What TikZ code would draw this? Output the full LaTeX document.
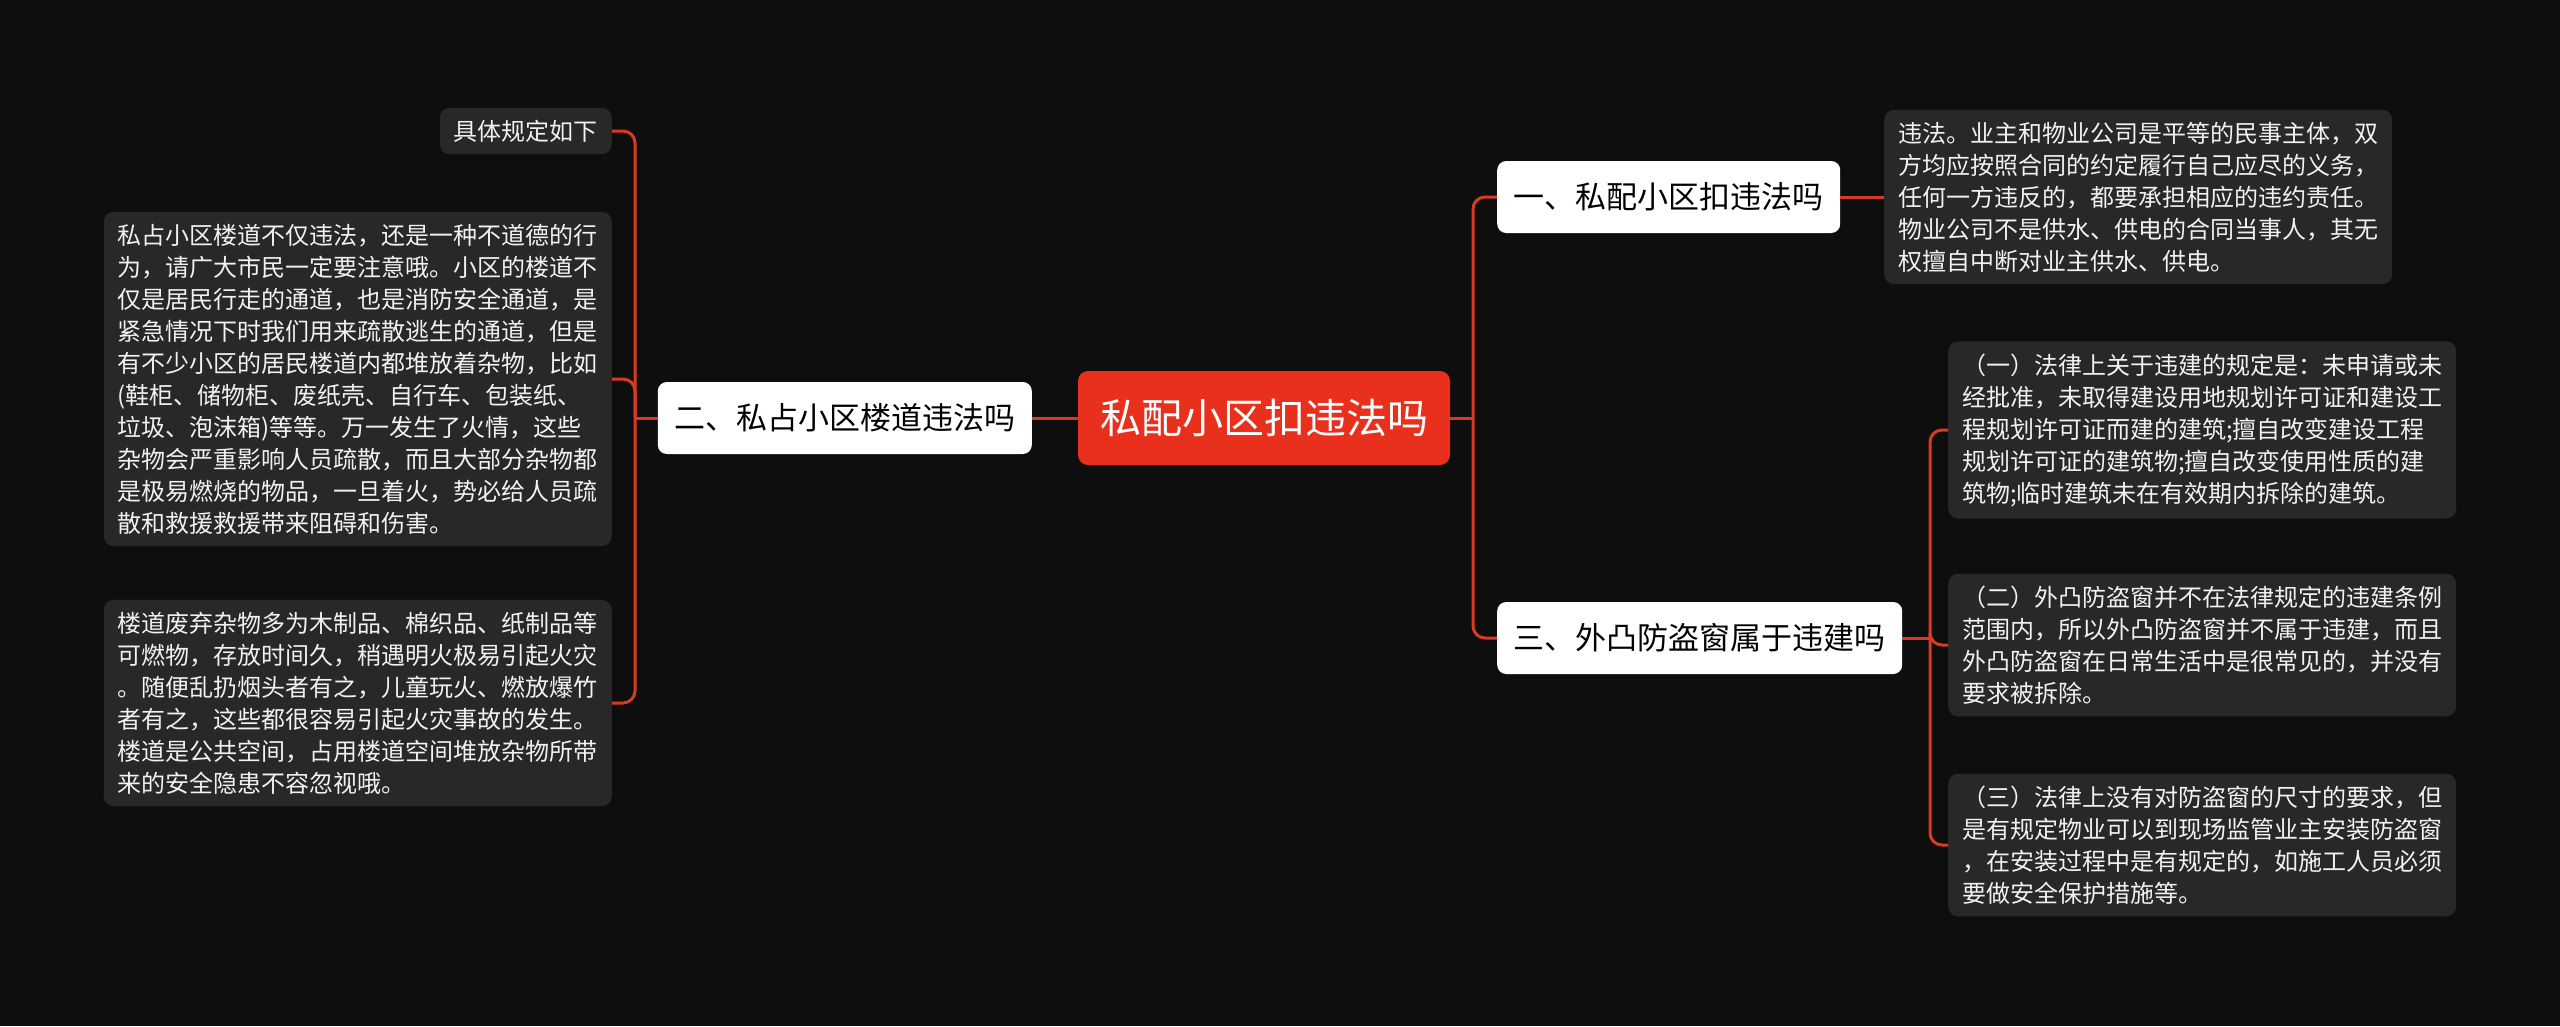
\documentclass[tikz,border=0pt]{standalone}
\usepackage{fontspec}
\setmainfont{Noto Sans CJK SC}
\usetikzlibrary{positioning}
\definecolor{PageBg}{HTML}{0E0E0E}
\definecolor{CardGray}{HTML}{282828}
\definecolor{TopicRed}{HTML}{E8301C}
\definecolor{LinkRed}{HTML}{D93A24}
\definecolor{Paper}{HTML}{F2F2F2}

\begin{document}
\begin{tikzpicture}[x=1pt,y=-1pt,
    link/.style={LinkRed,line width=3pt,rounded corners=12pt},
    card/.style={fill=CardGray,rounded corners=10pt,text=Paper,align=left,
      font=\fontsize{24}{32}\selectfont,inner xsep=14pt,inner ysep=12pt},
    topic/.style={fill=white,rounded corners=9pt,text=black,
      font=\fontsize{31}{38}\selectfont,inner xsep=16.5pt,minimum height=72pt},
    rootbox/.style={fill=TopicRed,rounded corners=10pt,text=white,
      font=\fontsize{41}{48}\selectfont,inner xsep=22pt,minimum height=94pt}]
    \useasboundingbox[fill=PageBg] (0,0) rectangle (2560,1026);

    % centre and the three topics
    \node[rootbox] (root) at (1264,418) {私配小区扣违法吗};
    \node[topic,anchor=east] (sub2) at (1032,418) {二、私占小区楼道违法吗};
    \node[topic,anchor=west] (sub1) at (1497,197) {一、私配小区扣违法吗};
    \node[topic,anchor=west] (sub3) at (1497,638) {三、外凸防盗窗属于违建吗};

    % left side
    \node[card,anchor=east] (spec) at (612,131) {具体规定如下};
    \node[card,anchor=east] (hallA) at (612,379)
      {私占小区楼道不仅违法，还是一种不道德的行\\为，请广大市民一定要注意哦。小区的楼道不\\仅是居民行走的通道，也是消防安全通道，是\\紧急情况下时我们用来疏散逃生的通道，但是\\有不少小区的居民楼道内都堆放着杂物，比如\\(鞋柜、储物柜、废纸壳、自行车、包装纸、\\垃圾、泡沫箱)等等。万一发生了火情，这些\\杂物会严重影响人员疏散，而且大部分杂物都\\是极易燃烧的物品，一旦着火，势必给人员疏\\散和救援救援带来阻碍和伤害。};
    \node[card,anchor=east] (hallB) at (612,703)
      {楼道废弃杂物多为木制品、棉织品、纸制品等\\可燃物，存放时间久，稍遇明火极易引起火灾\\。随便乱扔烟头者有之，儿童玩火、燃放爆竹\\者有之，这些都很容易引起火灾事故的发生。\\楼道是公共空间，占用楼道空间堆放杂物所带\\来的安全隐患不容忽视哦。};

    % right side
    \node[card,anchor=west] (law1) at (1884,197)
      {违法。业主和物业公司是平等的民事主体，双\\方均应按照合同的约定履行自己应尽的义务，\\任何一方违反的，都要承担相应的违约责任。\\物业公司不是供水、供电的合同当事人，其无\\权擅自中断对业主供水、供电。};
    \node[card,anchor=west] (rule1) at (1948,430)
      {（一）法律上关于违建的规定是：未申请或未\\经批准，未取得建设用地规划许可证和建设工\\程规划许可证而建的建筑;擅自改变建设工程\\规划许可证的建筑物;擅自改变使用性质的建\\筑物;临时建筑未在有效期内拆除的建筑。};
    \node[card,anchor=west] (rule2) at (1948,645)
      {（二）外凸防盗窗并不在法律规定的违建条例\\范围内，所以外凸防盗窗并不属于违建，而且\\外凸防盗窗在日常生活中是很常见的，并没有\\要求被拆除。};
    \node[card,anchor=west] (rule3) at (1948,845)
      {（三）法律上没有对防盗窗的尺寸的要求，但\\是有规定物业可以到现场监管业主安装防盗窗\\，在安装过程中是有规定的，如施工人员必须\\要做安全保护措施等。};

    % connectors
    \coordinate (ltrunk) at (635,418);
    \coordinate (rtrunk) at (1473,418);
    \coordinate (ttrunk) at (1930,638);
    \draw[link] (root.west) -- (sub2.east);
    \draw[link] (sub2.west) -- (ltrunk);
    \foreach \leaf in {spec,hallA,hallB}
      \draw[link] (ltrunk) |- (\leaf.east);
    \draw[link] (root.east) -- (rtrunk);
    \foreach \leaf in {sub1,sub3}
      \draw[link] (rtrunk) |- (\leaf.west);
    \draw[link] (sub1.east) -- (law1.west);
    \draw[link] (sub3.east) -- (ttrunk);
    \foreach \leaf in {rule1,rule2,rule3}
      \draw[link] (ttrunk) |- (\leaf.west);
  \end{tikzpicture}
\end{document}
